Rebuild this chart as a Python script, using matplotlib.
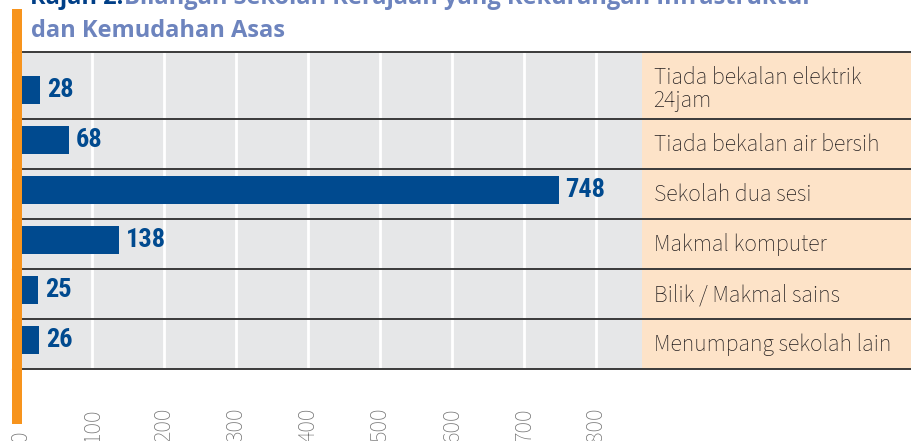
import matplotlib
matplotlib.use("Agg")
import matplotlib.pyplot as plt
from matplotlib.patches import Rectangle
from matplotlib import transforms

# data
categories = ["Tiada bekalan elektrik\n24jam", "Tiada bekalan air bersih", "Sekolah dua sesi",
              "Makmal komputer", "Bilik / Makmal sains", "Menumpang sekolah lain"]
values = [28, 68, 748, 138, 25, 26]
ticks = [0, 100, 200, 300, 400, 500, 600, 700, 800]
title1a = "Rajah 2:"
title1b = "Bilangan Sekolah Kerajaan yang Kekurangan Infrastruktur"
title2 = "dan Kemudahan Asas"

W, H = 912, 441
bar_col = "#004A8F"
grey = "#E6E7E8"
peach = "#FDE3C8"
orange = "#F7941D"
title_col = "#6D84BE"

fig = plt.figure(figsize=(W / 100, H / 100), dpi=100)

# axes: value 0 at x=20px, 800 at x=596px, runs to right edge
px_per = (596 - 20) / 800
x_max = (W - 20) / px_per
panel_end = (642 - 20) / px_per
top_px, bot_px = 52, 369
ax = fig.add_axes([20 / W, 1 - bot_px / H, (W - 20) / W, (bot_px - top_px) / H])
n = len(values)
ax.set_xlim(0, x_max)
ax.set_ylim(n - 0.5, -0.83)
ax.axis("off")

ax.axvspan(0, panel_end, color=grey, zorder=0, lw=0)
ax.axvspan(panel_end, x_max, color=peach, zorder=0, lw=0)
for t in ticks[1:]:
    ax.axvline(t, color="white", lw=2, zorder=1)

ys = list(range(n))
ax.barh([y - 0.08 for y in ys], values, height=0.56, color=bar_col, zorder=2)

for yl in [-0.83] + [y + 0.5 for y in ys]:
    ax.axhline(yl, xmin=0.003, color="#3A3A3A", lw=1.4, zorder=3, clip_on=False)
    ax.plot([-11, 0], [yl, yl], color="#FBC58A", lw=1, zorder=6, clip_on=False)

for y, v in zip(ys, values):
    ax.annotate(str(v), (v, y - 0.08), xytext=(5, 0), textcoords="offset points",
                ha="left", va="center", fontsize=19, fontweight="bold",
                family="Roboto Condensed", color=bar_col, zorder=4)

for y, c in zip(ys, categories):
    dy = -0.1 if "\n" in c else 0.02
    ax.text(panel_end + 16, y + dy, c, ha="left", va="center", fontsize=17,
            family="Source Sans 3", color="#231F20", linespacing=1.0, zorder=4)

# rotated tick labels, cut by the bottom edge
trans = transforms.blended_transform_factory(ax.transData, ax.transAxes)
for t in ticks:
    ax.text(t, -(442 - bot_px) / (bot_px - top_px), str(t), rotation=90, ha="center",
            va="bottom", fontsize=17.5, family="Source Sans 3",
            color="#767676", transform=trans, clip_on=False)

# orange side bar
fig.add_artist(Rectangle((12 / W, 1 - 424 / H), 10 / W, 415 / H,
                         transform=fig.transFigure, color=orange, lw=0, zorder=5))

# title (first line mostly cut off at top)
fig.text(30 / W, 1 - 4 / H, title1a, ha="left", va="baseline", fontsize=17,
         fontweight="bold", family="Open Sans", color="#003F87")
fig.text(124 / W, 1 - 4 / H, title1b, ha="left", va="baseline", fontsize=17,
         fontweight="bold", family="Open Sans", color=title_col)
fig.text(31 / W, 1 - 37 / H, title2, ha="left", va="baseline", fontsize=17,
         fontweight="bold", family="Open Sans", color=title_col)

fig.savefig("out.png", dpi=100)
